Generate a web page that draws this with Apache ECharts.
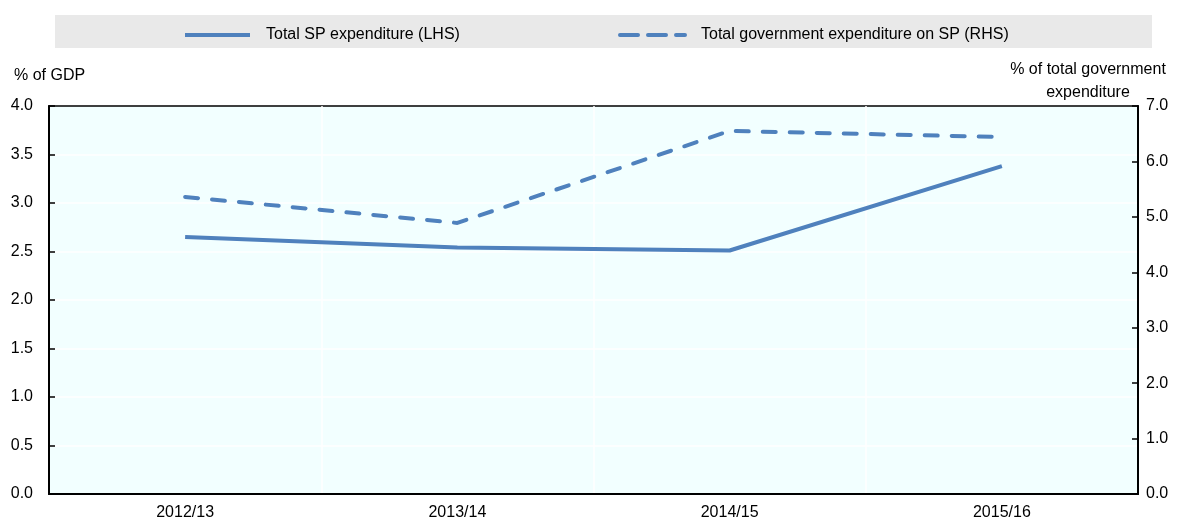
<!DOCTYPE html>
<html style="height: 100%">
<head>
	<meta charset="utf-8">
</head>
<body style="height: 100%; margin: 0">
<div id="container" style="width: 1183px; height: 521px"></div>
<script type="text/javascript" src="https://cdn.jsdelivr.net/npm/echarts@6/dist/echarts.min.js"></script>
<script type="text/javascript">
    var categories = ['2012/13', '2013/14', '2014/15', '2015/16'];
    var spExpenditure = [2.65, 2.54, 2.51, 3.38];      // % of GDP (LHS)
    var govExpenditure = [5.36, 4.89, 6.55, 6.44];     // % of total govt expenditure (RHS)
    var lineColor = '#4F81BD';
    var font = 'Liberation Sans, Arial, sans-serif';

    var dom = document.getElementById("container");
    var myChart = echarts.init(dom);

    var legendText = { fontSize: 16, color: '#000', fontFamily: font, padding: [0, 0, 0, 11] };

    var option = {
        backgroundColor: '#fff',
        textStyle: { fontFamily: font },
        graphic: [
            {
                type: 'rect',
                shape: { x: 55, y: 15, width: 1097, height: 33 },
                style: { fill: '#E9E9E9' },
                z: -1
            },
            {
                type: 'text',
                x: 14, y: 68,
                style: { text: '% of GDP', font: '16px ' + font, fill: '#000' }
            },
            {
                type: 'text',
                x: 1088, y: 58,
                style: {
                    text: '% of total government\nexpenditure',
                    font: '16px ' + font, fill: '#000',
                    align: 'center', lineHeight: 23
                }
            }
        ],
        legend: [
            {
                data: ['Total SP expenditure (LHS)'],
                left: 178, top: 22,
                itemWidth: 65, itemHeight: 10,
                itemStyle: { opacity: 0 },
                lineStyle: { width: 4 },
                textStyle: legendText
            },
            {
                data: ['Total government expenditure on SP (RHS)'],
                left: 613, top: 22,
                itemWidth: 65, itemHeight: 10,
                itemStyle: { opacity: 0 },
                lineStyle: { width: 4, type: [18, 10] },
                textStyle: legendText
            }
        ],
        grid: {
            left: 49, right: 45, top: 106, bottom: 27,
            show: true,
            backgroundColor: '#F2FFFF',
            borderColor: '#000',
            borderWidth: 1.5
        },
        xAxis: {
            type: 'category',
            data: categories,
            boundaryGap: true,
            axisLine: { lineStyle: { color: '#000', width: 2 } },
            axisTick: { inside: true, length: 6, lineStyle: { color: '#000', width: 1.5 } },
            axisLabel: { color: '#000', fontSize: 16, margin: 11, fontFamily: font },
            splitLine: { show: true, lineStyle: { color: '#fff', width: 1.5 } }
        },
        yAxis: [
            {
                type: 'value',
                min: 0, max: 4, interval: 0.5,
                axisLine: { show: true, lineStyle: { color: '#000', width: 2 } },
                axisTick: { show: true, inside: true, length: 6, lineStyle: { color: '#000', width: 1.5 } },
                axisLabel: {
                    color: '#000', fontSize: 16, margin: 16, fontFamily: font,
                    formatter: function (v) { return v.toFixed(1); }
                },
                splitLine: { show: true, showMinLine: false, showMaxLine: false, lineStyle: { color: '#fff', width: 1.5 } }
            },
            {
                type: 'value',
                min: 0, max: 7, interval: 1,
                position: 'right',
                axisLine: { show: true, lineStyle: { color: '#000', width: 2 } },
                axisTick: { show: true, inside: true, length: 6, lineStyle: { color: '#000', width: 1.5 } },
                axisLabel: {
                    color: '#000', fontSize: 16, margin: 8, fontFamily: font,
                    formatter: function (v) { return v.toFixed(1); }
                },
                splitLine: { show: false }
            }
        ],
        series: [
            {
                name: 'Total SP expenditure (LHS)',
                type: 'line',
                yAxisIndex: 0,
                data: spExpenditure,
                symbol: 'none',
                color: lineColor,
                lineStyle: { color: lineColor, width: 4 }
            },
            {
                name: 'Total government expenditure on SP (RHS)',
                type: 'line',
                yAxisIndex: 1,
                data: govExpenditure,
                symbol: 'none',
                color: lineColor,
                lineStyle: { color: lineColor, width: 4, type: [13, 14], cap: 'round' }
            }
        ]
    };

    myChart.setOption(option);
</script>
</body>
</html>
